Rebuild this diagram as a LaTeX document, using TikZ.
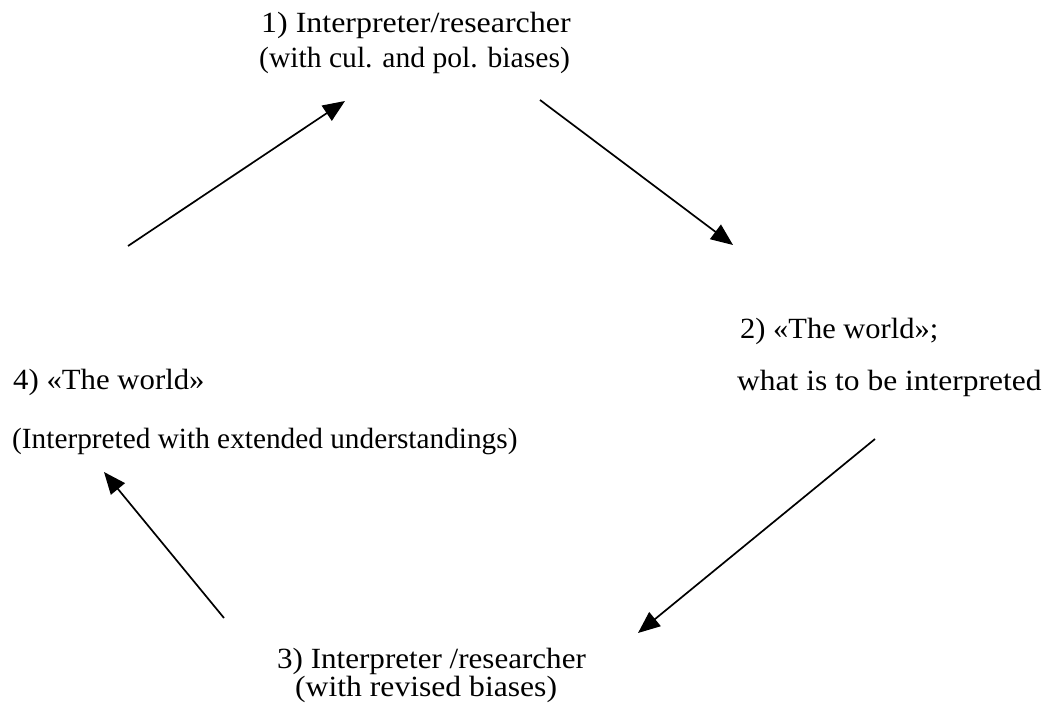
\documentclass[tikz,border=0pt]{standalone}
\usepackage{fontspec}
\setmainfont{Liberation Serif}
\usetikzlibrary{arrows.meta}
\tikzset{
  lbl/.style={anchor=base west, inner sep=0pt, font=\fontsize{29.3}{35}\selectfont},
  conn/.style={line width=1.7pt, -{Triangle[length=22pt,width=18pt]}}
}
\begin{document}
\begin{tikzpicture}[x=1pt,y=-1pt]
\useasboundingbox (0,0) rectangle (1047,722);
\node[lbl] (t1a) at (261,33) {\scalebox{1.09}[1]{1) Interpreter/researcher}};
\node[lbl] (t1b) at (259,68) {\scalebox{1.01}[1]{(with cul. and pol. biases)}};
\node[lbl] (t2a) at (740,338) {\scalebox{1.04}[1]{2) «The world»;}};
\node[lbl] (t2b) at (737,390) {\scalebox{1.075}[1]{what is to be interpreted}};
\node[lbl] (t4a) at (13,389) {\scalebox{1.05}[1]{4) «The world»}};
\node[lbl] (t4b) at (12,448) {(Interpreted with extended understandings)};
\node[lbl] (t3a) at (277,668) {\scalebox{1.06}[1]{3) Interpreter /researcher}};
\node[lbl] (t3b) at (295,696) {\scalebox{1.08}[1]{(with revised biases)}};
\coordinate (a1s) at (128,246);
\coordinate (a1e) at (345,101);
\coordinate (a2s) at (540,100);
\coordinate (a2e) at (733,245);
\coordinate (a3s) at (875,439);
\coordinate (a3e) at (638,633);
\coordinate (a4s) at (224,618);
\coordinate (a4e) at (104,472);
\draw[conn] (a1s) -- (a1e);
\draw[conn] (a2s) -- (a2e);
\draw[conn] (a3s) -- (a3e);
\draw[conn] (a4s) -- (a4e);
\end{tikzpicture}
\end{document}
